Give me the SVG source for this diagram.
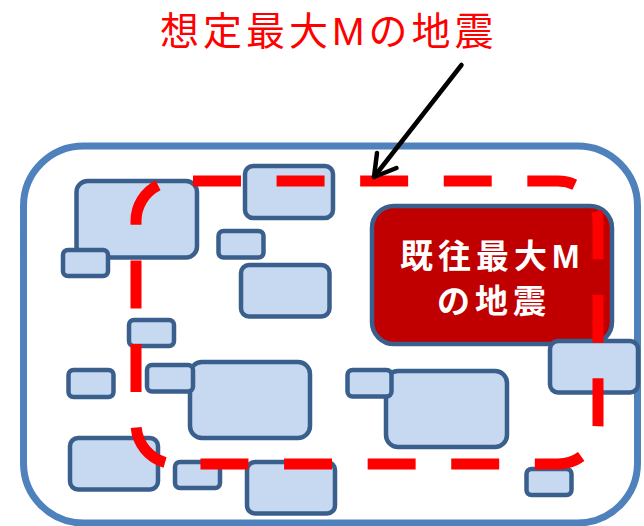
<svg xmlns="http://www.w3.org/2000/svg" width="644" height="526" viewBox="0 0 644 526">
<defs>
<style>
.frame{fill:#FFFFFF;stroke:#4F81BD;stroke-width:7}
.n{fill:#C6D9F1;stroke:#3A5F8C;stroke-width:4.5}
.hist{fill:#C00000;stroke:#3A5F8C;stroke-width:4.5}
.ht{font-family:"Liberation Sans","Noto Sans CJK JP",sans-serif;font-weight:bold;font-size:33px;fill:#FFFFFF;letter-spacing:5px}
.title{font-family:"Liberation Sans","Noto Sans CJK JP",sans-serif;font-size:39px;fill:#FF0000;letter-spacing:4px}
.zone{fill:none;stroke:#FF0000;stroke-width:11}
.arrow{fill:none;stroke:#000000;stroke-width:4.5;stroke-linecap:round;stroke-linejoin:round}
</style>
</defs>
<rect width="644" height="526" fill="#FFFFFF"/>
<g id="frame"><rect class="frame" x="23.5" y="146" width="614" height="377" rx="60"/></g>
<g id="node1"><rect class="n" x="76.5" y="181" width="120.5" height="76.5" rx="11"/></g>
<g id="node2"><rect class="n" x="245" y="166" width="88" height="52" rx="8"/></g>
<g id="node3"><rect class="n" x="63" y="250" width="45" height="26" rx="5"/></g>
<g id="node4"><rect class="n" x="218.5" y="231" width="45" height="26.5" rx="5"/></g>
<g id="node5"><rect class="n" x="241" y="265" width="88.5" height="51.5" rx="8"/></g>
<g id="node6"><rect class="n" x="129" y="320" width="45" height="26" rx="5"/></g>
<g id="node7"><rect class="n" x="68.5" y="370" width="45" height="27" rx="5"/></g>
<g id="node9"><rect class="n" x="190" y="362" width="120" height="76" rx="12"/></g>
<g id="node8"><rect class="n" x="147" y="365" width="46" height="26.5" rx="5"/></g>
<g id="node10"><rect class="n" x="70" y="438" width="88" height="51.5" rx="8"/></g>
<g id="node11"><rect class="n" x="175" y="462" width="45" height="26" rx="5"/></g>
<g id="node12"><rect class="n" x="247" y="462" width="88" height="51.5" rx="8"/></g>
<g id="node14"><rect class="n" x="386" y="371" width="121" height="76" rx="12"/></g>
<g id="node13"><rect class="n" x="347.5" y="370" width="44" height="26.5" rx="5"/></g>
<g id="node16"><rect class="n" x="526.5" y="469" width="45" height="26" rx="5"/></g>
<g id="historical">
<rect class="hist" x="372" y="206" width="240" height="138" rx="22"/>
<text class="ht" x="400" y="268">既往最大M</text>
<text class="ht" x="437" y="313">の地震</text>
</g>
<g id="node15"><rect class="n" x="550" y="341" width="88" height="51.5" rx="8"/></g>
<g id="assumed-zone">
<path class="zone" pathLength="1700" stroke-dasharray="57.4 42.6" d="M193,181 H558 A40,40 0 0 1 598,221 V424 A40,40 0 0 1 558,464 H176 A40,40 0 0 1 136,424 V221 A40,40 0 0 1 176,181 Z"/>
</g>
<g id="title"><text class="title" x="160" y="45">想定最大Mの地震</text></g>
<g id="connectors">
<path class="arrow" d="M461.5,65 L374,177"/>
<path class="arrow" d="M377,153 L374,177 L396.5,168"/>
</g>
</svg>
